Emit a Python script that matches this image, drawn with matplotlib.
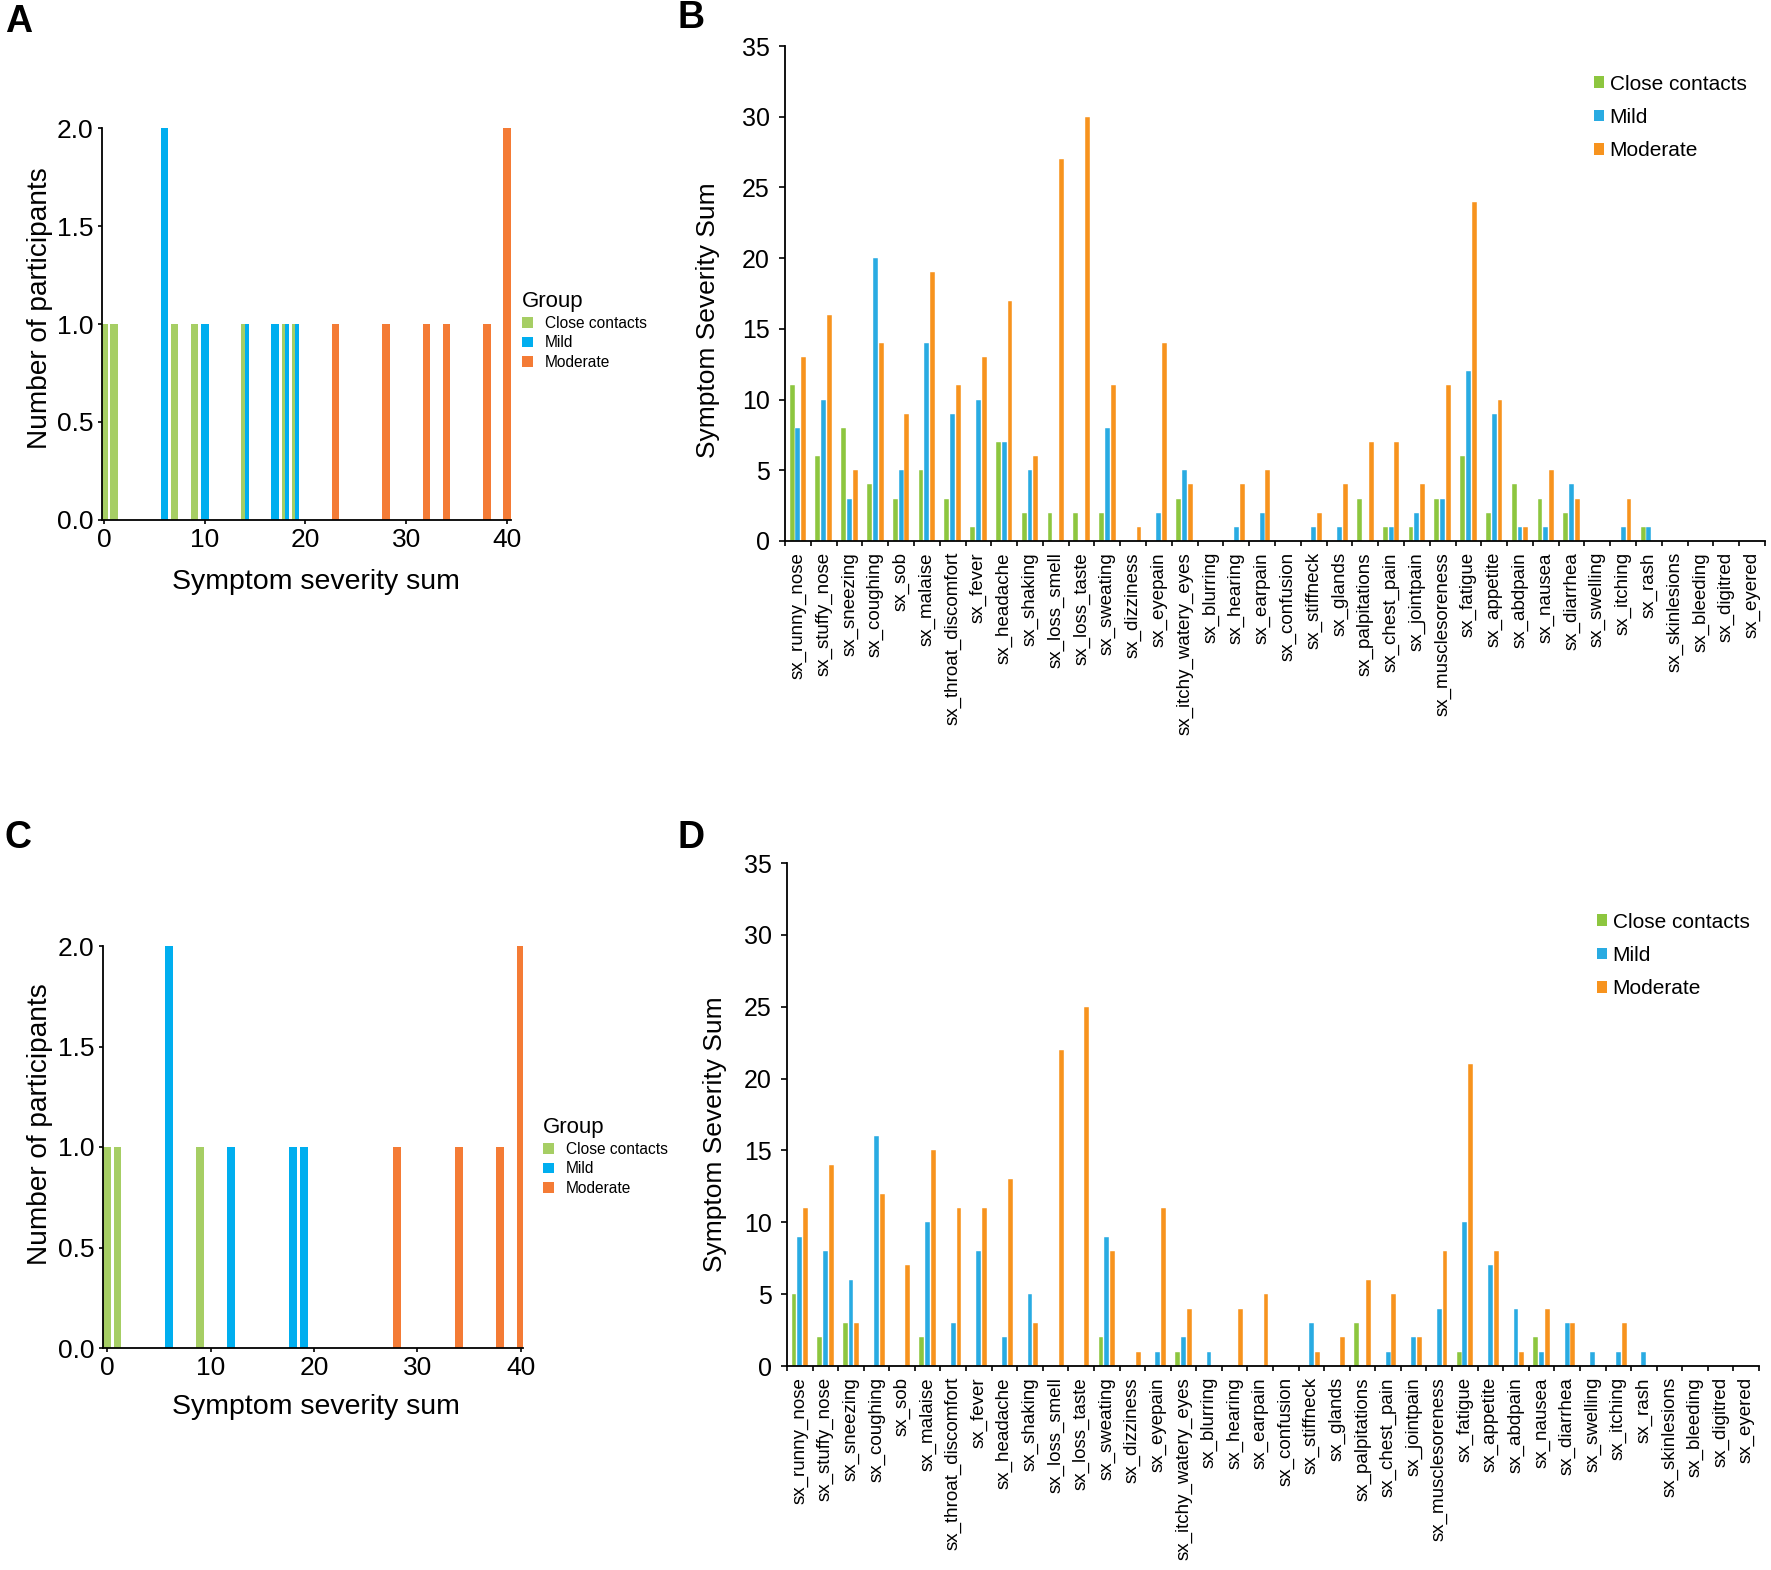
import numpy as np
import matplotlib
matplotlib.use("Agg")
import matplotlib.pyplot as plt
from matplotlib.patches import Patch
from matplotlib.ticker import FormatStrFormatter

plt.rcParams['font.family'] = ['Liberation Sans', 'DejaVu Sans']

# -------- Data -------- #
groups = ["Close contacts", "Mild", "Moderate"]

# symptom severity sum of each participant (panels A and C)
a_close = [0, 1, 7, 9, 14, 18, 19]
a_mild = [6, 6, 10, 14, 17, 18, 19]
a_moderate = [23, 28, 32, 34, 38, 40, 40]

c_close = [0, 1, 9]
c_mild = [6, 6, 12, 18, 19]
c_moderate = [28, 34, 38, 40, 40]

symptoms = ["sx_runny_nose", "sx_stuffy_nose", "sx_sneezing", "sx_coughing", "sx_sob",
            "sx_malaise", "sx_throat_discomfort", "sx_fever", "sx_headache", "sx_shaking",
            "sx_loss_smell", "sx_loss_taste", "sx_sweating", "sx_dizziness", "sx_eyepain",
            "sx_itchy_watery_eyes", "sx_blurring", "sx_hearing", "sx_earpain", "sx_confusion",
            "sx_stiffneck", "sx_glands", "sx_palpitations", "sx_chest_pain", "sx_jointpain",
            "sx_musclesoreness", "sx_fatigue", "sx_appetite", "sx_abdpain", "sx_nausea",
            "sx_diarrhea", "sx_swelling", "sx_itching", "sx_rash", "sx_skinlesions",
            "sx_bleeding", "sx_digitred", "sx_eyered"]

# panel B
b_close = [11, 6, 8, 4, 3, 5, 3, 1, 7, 2, 2, 2, 2, 0, 0, 3, 0, 0, 0, 0,
           0, 0, 3, 1, 1, 3, 6, 2, 4, 3, 2, 0, 0, 1, 0, 0, 0, 0]
b_mild = [8, 10, 3, 20, 5, 14, 9, 10, 7, 5, 0, 0, 8, 0, 2, 5, 0, 1, 2, 0,
          1, 1, 0, 1, 2, 3, 12, 9, 1, 1, 4, 0, 1, 1, 0, 0, 0, 0]
b_moderate = [13, 16, 5, 14, 9, 19, 11, 13, 17, 6, 27, 30, 11, 1, 14, 4, 0, 4, 5, 0,
              2, 4, 7, 7, 4, 11, 24, 10, 1, 5, 3, 0, 3, 0, 0, 0, 0, 0]

# panel D
d_close = [5, 2, 3, 0, 0, 2, 0, 0, 0, 0, 0, 0, 2, 0, 0, 1, 0, 0, 0, 0,
           0, 0, 3, 0, 0, 0, 1, 0, 0, 2, 0, 0, 0, 0, 0, 0, 0, 0]
d_mild = [9, 8, 6, 16, 0, 10, 3, 8, 2, 5, 0, 0, 9, 0, 1, 2, 1, 0, 0, 0,
          3, 0, 0, 1, 2, 4, 10, 7, 4, 1, 3, 1, 1, 1, 0, 0, 0, 0]
d_moderate = [11, 14, 3, 12, 7, 15, 11, 11, 13, 3, 22, 25, 8, 1, 11, 4, 0, 4, 5, 0,
              1, 2, 6, 5, 2, 8, 21, 8, 1, 4, 3, 0, 3, 0, 0, 0, 0, 0]

hist_colors = ['#a6ce64', '#00aeef', '#f47b35']
bar_colors = ['#8dc63f', '#29abe2', '#f7931e']

# -------- Figure -------- #
W, H = 1771, 1570
fig = plt.figure(figsize=(W / 100, H / 100), dpi=100)


def box(l, t, r, b):
    return [l / W, 1 - b / H, (r - l) / W, (b - t) / H]


def style_axes(ax):
    for s in ['top', 'right']:
        ax.spines[s].set_visible(False)
    for s in ['left', 'bottom']:
        ax.spines[s].set_linewidth(1.3)
        ax.spines[s].set_color('black')


def draw_hist(ax, data, xlim):
    counts = [dict(zip(*np.unique(g, return_counts=True))) for g in data]
    values = sorted(set().union(*[c.keys() for c in counts]))
    w = 0.75
    for v in values:
        present = [i for i, c in enumerate(counts) if v in c]
        n = len(present)
        for j, i in enumerate(present):
            ax.bar(v - w / 2 + (j + 0.5) * w / n, counts[i][v], width=w / n,
                   color=hist_colors[i], linewidth=0)
    ax.set_xlim(*xlim)
    ax.set_ylim(0, 2)
    ax.set_yticks(np.arange(0, 2.01, 0.5))
    ax.yaxis.set_major_formatter(FormatStrFormatter('%.1f'))
    ax.set_xticks([0, 10, 20, 30, 40])
    style_axes(ax)
    ax.tick_params(length=3, width=1.2, pad=3, labelsize=19)
    ax.set_xlabel("Symptom severity sum", fontsize=20.5, va='center')
    ax.set_ylabel("Number of participants", fontsize=20.2, va='center')


def draw_bars(ax, data):
    x = np.arange(len(symptoms))
    for vals, c, o in zip(data, bar_colors, [-0.225, 0, 0.225]):
        ax.bar(x + o, vals, width=0.19, color=c, edgecolor='white', linewidth=0.3)
    ax.set_xlim(-0.5, len(symptoms) - 0.5)
    ax.set_ylim(0, 35)
    ax.set_yticks(np.arange(0, 36, 5))
    ax.set_xticks(np.arange(len(symptoms) + 1) - 0.5)
    ax.set_xticklabels([])
    ax.set_xticks(x, minor=True)
    ax.set_xticklabels(symptoms, minor=True, rotation=90, fontsize=13.5)
    ax.tick_params(axis='x', which='minor', length=0, pad=8)
    ax.tick_params(axis='x', which='major', length=3.5, width=1.2)
    ax.tick_params(axis='y', length=4, width=1.2, pad=7, labelsize=18)
    style_axes(ax)
    ax.set_ylabel("Symptom Severity Sum", fontsize=19, va='center')


# --- Panel A --- #
axA = fig.add_axes(box(102, 128, 511, 520))
draw_hist(axA, [a_close, a_mild, a_moderate], (-0.2, 40.4))
axA.xaxis.set_label_coords(0.523, -0.157)
axA.yaxis.set_label_coords(-0.152, 0.541)

# --- Panel C --- #
axC = fig.add_axes(box(103, 946, 523, 1348))
draw_hist(axC, [c_close, c_mild, c_moderate], (-0.39, 40.2))
axC.xaxis.set_label_coords(0.507, -0.148)
axC.yaxis.set_label_coords(-0.15, 0.557)

# --- Panel B --- #
axB = fig.add_axes(box(785, 46, 1765, 541))
draw_bars(axB, [b_close, b_mild, b_moderate])
axB.yaxis.set_label_coords(-0.079, 0.446)

# --- Panel D --- #
axD = fig.add_axes(box(787, 863, 1759, 1366))
draw_bars(axD, [d_close, d_mild, d_moderate])
axD.yaxis.set_label_coords(-0.074, 0.461)

# --- Legends --- #
hist_handles = [Patch(facecolor=c, label=g) for c, g in zip(hist_colors, groups)]
bar_handles = [Patch(facecolor=c, label=g) for c, g in zip(bar_colors, groups)]

for (lx, ty) in [(522, 291), (543, 1117)]:
    fig.legend(handles=hist_handles, title='Group', loc='upper left',
               bbox_to_anchor=(lx / W, 1 - ty / H), frameon=False, fontsize=11.2,
               title_fontsize=16, handlelength=0.7, handleheight=0.7,
               handletextpad=0.75, labelspacing=0.27, borderpad=0, borderaxespad=0,
               alignment='left')

for (lx, ty) in [(1594, 74.5), (1597, 912.5)]:
    fig.legend(handles=bar_handles, loc='upper left',
               bbox_to_anchor=(lx / W, 1 - ty / H), frameon=False, fontsize=15,
               handlelength=0.5, handleheight=0.5, handletextpad=0.25,
               labelspacing=0.69, borderpad=0, borderaxespad=0)

# --- Panel letters --- #
for letter, (px, py) in zip("ABCD", [(5, 32), (677, 28), (5, 848), (677, 848)]):
    fig.text(px / W, 1 - py / H, letter, fontsize=27, fontweight='bold', va='baseline')

fig.savefig("out.png", dpi=100)
